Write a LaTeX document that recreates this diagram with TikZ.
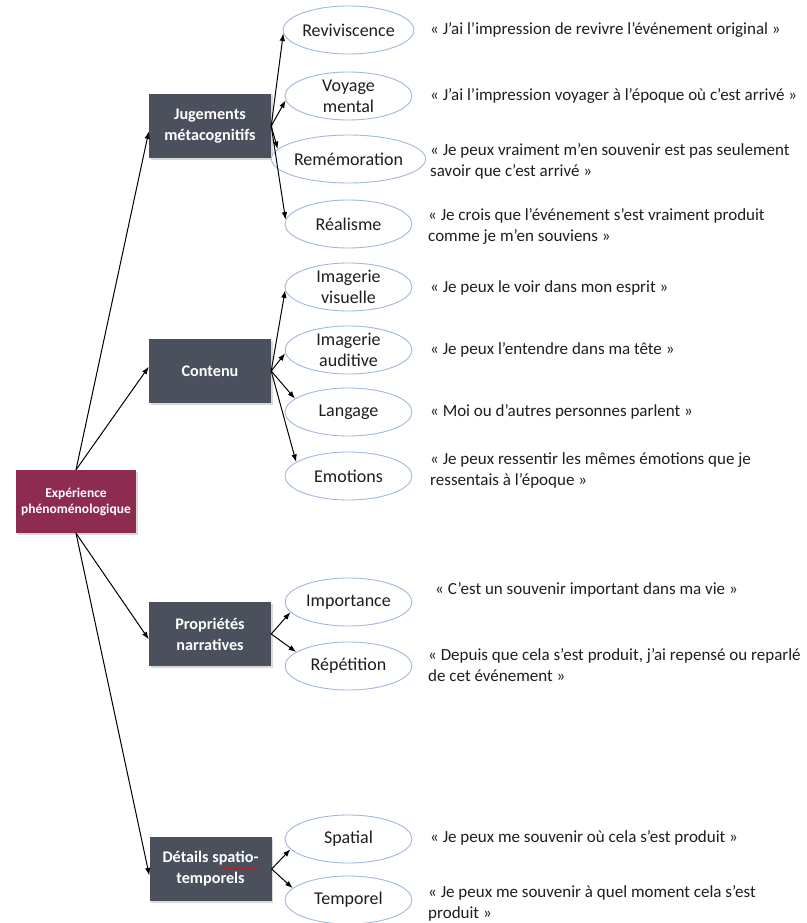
\documentclass[tikz,border=0pt]{standalone}
\usepackage{fontspec}
\setmainfont{Carlito}
\usetikzlibrary{arrows.meta,shapes.geometric,shadows,decorations.pathmorphing,calc}
\definecolor{rootc}{HTML}{8E2B50}
\definecolor{catc}{HTML}{4A505C}
\definecolor{ellc}{HTML}{9FB8E2}
\definecolor{txtc}{HTML}{1E1E1E}
\begin{document}
\begin{tikzpicture}[x=1pt,y=-1pt,
  rootbox/.style={rectangle, fill=rootc, text=white, font=\fontsize{13.5}{16}\selectfont\bfseries,
    align=center, minimum width=120pt, minimum height=63pt, inner sep=0pt,
    drop shadow={shadow xshift=1.5pt, shadow yshift=-1.5pt, opacity=0.3}},
  catbox/.style={rectangle, fill=catc, text=white, font=\fontsize{16.2}{21}\selectfont\bfseries,
    align=center, minimum width=122pt, minimum height=64pt, inner sep=0pt,
    drop shadow={shadow xshift=1.5pt, shadow yshift=-1.5pt, opacity=0.3}},
  leaf/.style={ellipse, draw=ellc, line width=0.9pt, fill=white, text=txtc,
    font=\fontsize{18}{21}\selectfont, align=center,
    minimum width=127pt, minimum height=48pt, inner sep=0pt},
  quote/.style={anchor=west, align=left, text=txtc, inner sep=0pt,
    font=\fontsize{17}{21}\selectfont},
  arr/.style={-{Latex[length=7.5pt,width=5.5pt]}, line width=1pt, black}
]
\useasboundingbox (0,0) rectangle (806,923);

% root and categories
\node[rootbox] (root) at (76,501.5) {Expérience\\phénoménologique};
\node[catbox] (jug) at (210,126) {Jugements\\métacognitifs};
\node[catbox] (con) at (210,371) {Contenu};
\node[catbox] (pro) at (210,634) {Propriétés\\narratives};
\node[catbox] (det) at (210.5,869) {Détails spatio-\\temporels};
\draw[red, line width=0.6pt, decorate, decoration={snake, amplitude=0.8pt, segment length=3pt}]
  ($(det.center)+(10,0)$) -- ($(det.center)+(48,0)$);

% leaves
\node[leaf] (rev) at (348.5,30) {Reviviscence};
\node[leaf] (voy) at (348.5,96) {Voyage\\mental};
\node[leaf] (rem) at (348.5,159) {Remémoration};
\node[leaf] (rea) at (348.5,224) {Réalisme};
\node[leaf] (imv) at (348.5,287) {Imagerie\\visuelle};
\node[leaf] (ima) at (348.5,350) {Imagerie\\auditive};
\node[leaf] (lan) at (348.5,412) {Langage};
\node[leaf] (emo) at (348.5,476) {Emotions};
\node[leaf] (imp) at (348.5,602) {Importance};
\node[leaf] (rep) at (348.5,666) {Répétition};
\node[leaf] (spa) at (348.5,839) {Spatial};
\node[leaf] (tem) at (348.5,900) {Temporel};

% quotes
\node[quote] (q1) at (430,30) {« J’ai l’impression de revivre l’événement original »};
\node[quote] (q2) at (430,96) {« J’ai l’impression voyager à l’époque où c’est arrivé »};
\node[quote] (q3) at (430,161) {« Je peux vraiment m’en souvenir est pas seulement\\savoir que c’est arrivé »};
\node[quote] (q4) at (428,226) {« Je crois que l’événement s’est vraiment produit\\comme je m’en souviens »};
\node[quote] (q5) at (430,288) {« Je peux le voir dans mon esprit »};
\node[quote] (q6) at (430,350) {« Je peux l’entendre dans ma tête »};
\node[quote] (q7) at (430,412) {« Moi ou d’autres personnes parlent »};
\node[quote] (q8) at (430,470) {« Je peux ressentir les mêmes émotions que je\\ressentais à l’époque »};
\node[quote] (q9) at (435,590) {« C’est un souvenir important dans ma vie »};
\node[quote] (q10) at (428,665) {« Depuis que cela s’est produit, j’ai repensé ou reparlé\\de cet événement »};
\node[quote] (q11) at (430,838) {« Je peux me souvenir où cela s’est produit »};
\node[quote] (q12) at (428,903) {« Je peux me souvenir à quel moment cela s’est\\produit »};

% connectors
\draw[arr] (root.north) -- (jug.185);
\draw[arr] (root.north) -- (con.176);
\draw[arr] (root.south) -- (pro.185);
\draw[arr] (root.south) -- (det.186);

\draw[arr] (jug.east) -- (rev.183);
\draw[arr] (jug.east) -- (voy.184);
\draw[arr] (jug.east) -- (rem.172);
\draw[arr] (jug.east) -- (rea.176);

\draw[arr] (con.east) -- (imv.183);
\draw[arr] (con.east) -- (ima.183);
\draw[arr] (con.east) -- (lan.166);
\draw[arr] (con.east) -- (emo.165);

\draw[arr] (pro.east) -- (imp.190);
\draw[arr] (pro.east) -- (rep.165);

\draw[arr] (det.east) -- (spa.190);
\draw[arr] (det.east) -- (tem.168);
\end{tikzpicture}
\end{document}
